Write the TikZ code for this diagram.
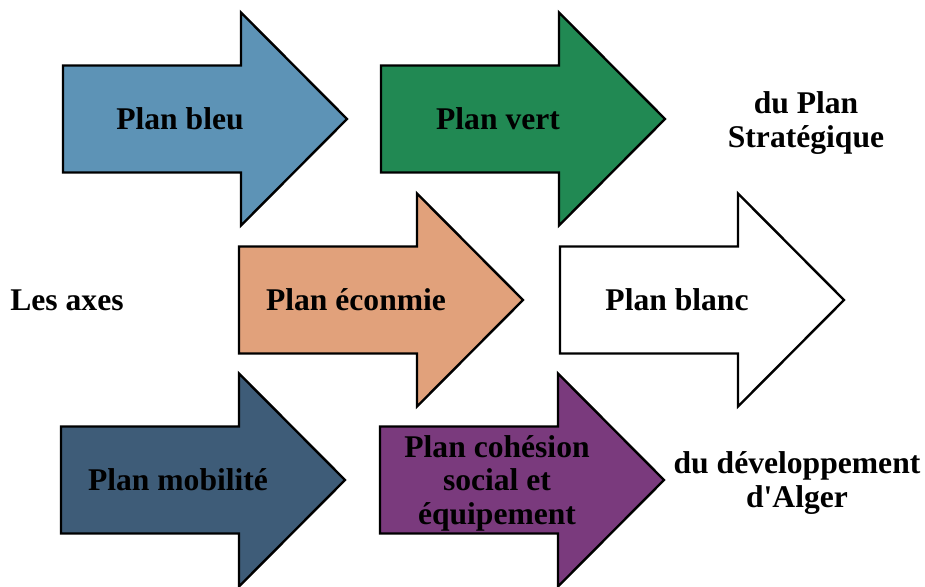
\documentclass[tikz,border=0pt]{standalone}
\usepackage{fontspec}
\setmainfont{Liberation Serif}
\usepackage{tikz}
\usetikzlibrary{calc}
\definecolor{bleu}{RGB}{93,147,182}
\definecolor{vert}{RGB}{33,137,83}
\definecolor{saumon}{RGB}{225,161,123}
\definecolor{ardoise}{RGB}{62,92,120}
\definecolor{violet}{RGB}{122,58,125}
\tikzset{planarrow/.style={draw=black, line width=1.2pt, line join=miter}}
\tikzset{plantext/.style={align=center, inner sep=0pt, font=\fontsize{15.8}{16.8}\selectfont\bfseries}}

\begin{document}
\begin{tikzpicture}[x=0.5pt,y=-0.5pt]
  \useasboundingbox (0,0) rectangle (925,587);
  \foreach \x/\y/\dy/\col/\lab/\txt in {
    63/119/0/bleu/pbleu/{Plan bleu},
    381/119/0/vert/pvert/{Plan vert},
    239/300/0/saumon/peco/{Plan éconmie},
    560/300/0/white/pblanc/{Plan blanc},
    61/480/0/ardoise/pmob/{Plan mobilité},
    380/480/3/violet/pcoh/{Plan cohésion\\social et\\équipement}%
  } {
    \draw[planarrow, fill=\col] (\x,\y) ++(0,-53.5) -- ++(178,0) -- ++(0,-53)
      -- ++(106,106.5) -- ++(-106,106.5) -- ++(0,-53) -- ++(-178,0) -- cycle;
    \node[plantext] (\lab) at (\x+117,\y+\dy) {\txt};
  }
  \node[plantext] (axes) at (67,300) {Les axes};
  \node[plantext] (strat) at (806,123) {du Plan\\Stratégique};
  \node[plantext] (alger) at (797,483) {du développement\\d\textquotesingle Alger};
\end{tikzpicture}
\end{document}
